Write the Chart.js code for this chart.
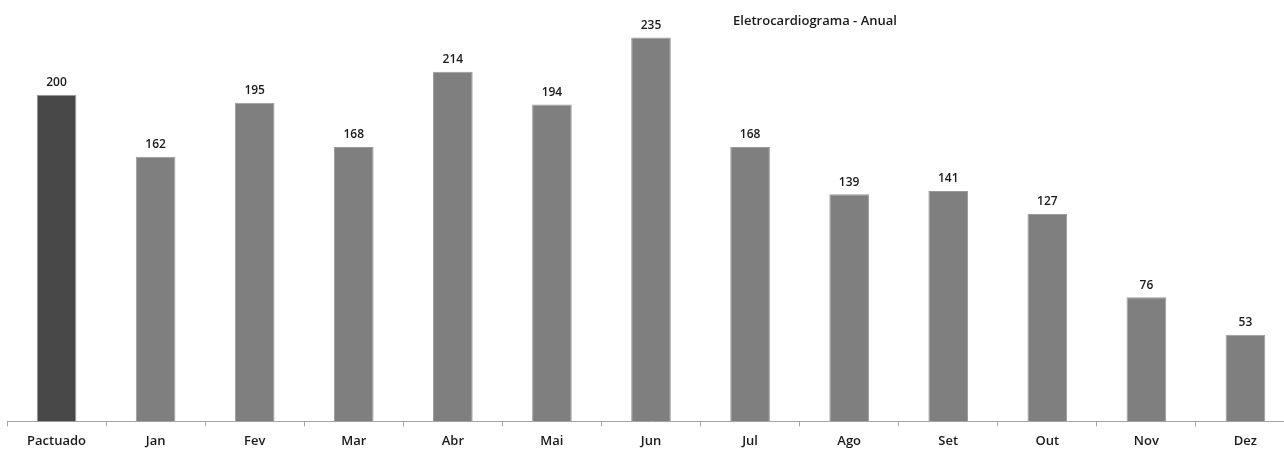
<!DOCTYPE html>
<html>
<head>
<meta charset="utf-8">
<script src="https://cdn.jsdelivr.net/npm/chart.js@4"></script>
<style>
  html, body { margin: 0; padding: 0; background: #fff; overflow: hidden; }
  #wrap { position: absolute; left: 0; top: 0; width: 1295px; height: 456px; }
</style>
</head>
<body>
<div id="wrap"><canvas id="grafica"></canvas></div>
<script>
const categorias = ['Pactuado', 'Jan', 'Fev', 'Mar', 'Abr', 'Mai', 'Jun', 'Jul', 'Ago', 'Set', 'Out', 'Nov', 'Dez'];
const valores = [200, 162, 195, 168, 214, 194, 235, 168, 139, 141, 127, 76, 53];
const titulo = 'Eletrocardiograma - Anual';

const coresBarras = categorias.map(function (c, i) { return i === 0 ? '#484848' : '#7f7f7f'; });

// rotulos de valor e titulo desenhados a mao
const rotulos = {
    id: 'rotulos',
    afterDatasetsDraw: function (chart) {
        const ctx = chart.ctx;
        const meta = chart.getDatasetMeta(0);
        ctx.save();
        ctx.fillStyle = '#1a1a1a';
        ctx.font = '600 12px "Open Sans"';
        ctx.textAlign = 'center';
        ctx.textBaseline = 'bottom';
        meta.data.forEach(function (bar, i) {
            ctx.fillText(valores[i], bar.x, bar.y - 6);
        });
        ctx.font = '600 13px "Open Sans"';
        ctx.fillText(titulo, 815, 28);
        ctx.restore();
    }
};

new Chart(document.getElementById('grafica'), {
    type: 'bar',
    data: {
        labels: categorias,
        datasets: [{
            data: valores,
            backgroundColor: coresBarras,
            borderColor: '#9a9a9a',
            borderWidth: 1,
            categoryPercentage: 0.4,
            barPercentage: 1
        }]
    },
    options: {
        responsive: true,
        maintainAspectRatio: false,
        animation: false,
        layout: { padding: { left: 7, right: 0, top: 13, bottom: 0 } },
        plugins: { legend: { display: false }, tooltip: { enabled: false } },
        scales: {
            y: { display: false, min: 0, max: 250 },
            x: {
                offset: true,
                border: { display: true, color: '#a6a6a6', width: 1 },
                grid: { offset: true, drawOnChartArea: false, drawTicks: true, tickLength: 5, color: '#a6a6a6' },
                ticks: { color: '#1a1a1a', padding: 7, font: { family: 'Open Sans', size: 13, weight: '600' } }
            }
        }
    },
    plugins: [rotulos]
});
</script>
</body>
</html>
